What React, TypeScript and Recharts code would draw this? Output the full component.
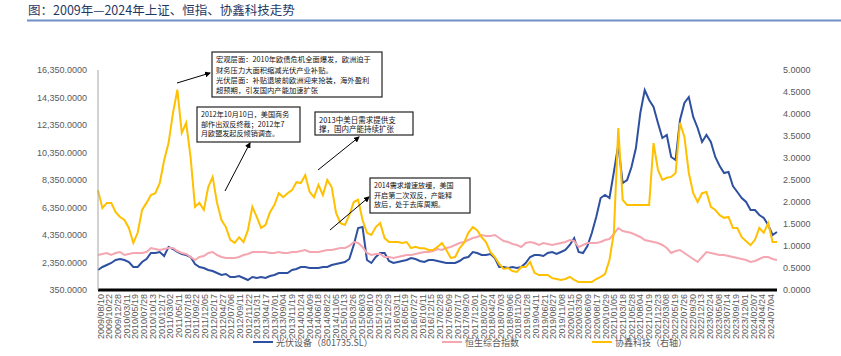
import React from 'react';
import { LineChart, Line, XAxis, YAxis } from 'recharts';

const chartTitle = '图：2009年—2024年上证、恒指、协鑫科技走势';

const xLabels = [
  '2009/08/10', '2009/10/22', '2009/12/28', '2010/03/11', '2010/05/19', '2010/07/28', '2010/10/13', '2010/12/17',
  '2011/03/02', '2011/05/11', '2011/07/18', '2011/09/22', '2011/12/05', '2012/02/17', '2012/04/27', '2012/07/06',
  '2012/09/11', '2012/11/22', '2013/01/31', '2013/04/17', '2013/07/01', '2013/09/04', '2013/11/19', '2014/01/24',
  '2014/04/09', '2014/06/18', '2014/08/22', '2014/11/05', '2015/01/13', '2015/03/26', '2015/06/03', '2015/08/10',
  '2015/10/23', '2015/12/29', '2016/03/11', '2016/05/19', '2016/07/27', '2016/10/11', '2016/12/15', '2017/02/28',
  '2017/05/09', '2017/07/17', '2017/09/20', '2017/12/01', '2018/02/07', '2018/04/24', '2018/07/03', '2018/09/06',
  '2018/11/20', '2019/01/28', '2019/04/11', '2019/06/21', '2019/08/27', '2019/11/08', '2020/01/15', '2020/03/30',
  '2020/06/09', '2020/08/17', '2020/10/29', '2021/01/05', '2021/03/18', '2021/05/28', '2021/08/04', '2021/10/19',
  '2021/12/23', '2022/03/08', '2022/05/19', '2022/07/26', '2022/09/30', '2022/12/13', '2023/02/24', '2023/05/08',
  '2023/07/14', '2023/09/19', '2023/12/01', '2024/02/07', '2024/04/24', '2024/07/04',
];

// 光伏设备（801735.SL） – left axis
const blueSeries = [
  1805, 2023, 2168, 2314, 2532, 2605, 2532, 2386, 2023, 2023, 2386, 2605, 3041, 3041, 3114, 2823, 3477, 3332, 3114, 2968,
  2895, 2750, 2241, 2023, 1950, 1805, 1732, 1586, 1441, 1514, 1295, 1295, 1368, 1223, 1077, 1295, 1223, 1295, 1223,
  1368, 1441, 1586, 1586, 1586, 1805, 1877, 2023, 2023, 1950, 1950, 1950, 2023, 2023, 2168, 2241, 2314, 2386, 2605, 3623,
  4859, 4932, 2532, 2314, 2750, 3041, 3041, 2459, 2314, 2386, 2459, 2532, 2677, 2605, 2459, 2386, 2532, 2532,
  2459, 2386, 2314, 2314, 2314, 2459, 2677, 2750, 3114, 3041, 2895, 2895, 2968, 2677, 2023, 2023, 1950, 2023, 1950, 2023,
  2314, 2750, 2895, 2895, 2823, 3041, 3114, 2968, 3114, 3259, 3623, 4132, 3114, 3041, 3550, 4496, 5659, 7041, 7259,
  7041, 8932, 10896, 8132, 8350, 9296, 10677, 13223, 14896, 14168, 13659, 12496, 11405, 11623, 10023, 9805, 12714, 13950,
  14386, 12932, 12132, 11114, 11623, 11114, 10023, 9368, 8859, 8932, 7914, 7477, 7041, 6750, 6168, 6168, 5805, 5586, 5077,
  4350, 4568,
];

// 恒生综合指数 – left axis
const pinkSeries = [
  2895, 2968, 3041, 2895, 3041, 3114, 2895, 2968, 3041, 3041, 3041, 3114, 3405, 3332, 3259, 3332, 3405, 3405, 3186, 3041,
  2968, 2750, 2532, 2750, 2823, 3041, 3114, 2895, 2750, 2677, 2677, 2677, 2750, 2895, 2968, 3114, 3114, 3114, 3114,
  3041, 3041, 3114, 3041, 3041, 3114, 3114, 3186, 3259, 3114, 3114, 3114, 3186, 3259, 3259, 3332, 3405, 3405, 3550, 3841,
  3768, 3477, 3041, 2895, 2968, 2968, 2750, 2750, 2677, 2750, 2823, 2895, 2895, 2968, 3041, 3114, 3114, 3186,
  3332, 3259, 3405, 3477, 3623, 3768, 3841, 3986, 4132, 4205, 4350, 4277, 4277, 4350, 4132, 3914, 3841, 3695, 3623, 3477,
  3768, 3841, 3768, 3623, 3768, 3695, 3623, 3695, 3768, 3841, 3986, 3914, 3477, 3623, 3768, 3768, 3768, 3841, 3986,
  4059, 4423, 4859, 4641, 4568, 4496, 4350, 4205, 3986, 3914, 3841, 3768, 3623, 3405, 3041, 3186, 3259, 3041, 2823, 2605,
  2386, 2750, 3114, 3041, 2968, 2895, 2895, 2823, 2750, 2677, 2605, 2532, 2386, 2459, 2605, 2750, 2750, 2605, 2532,
];

// 协鑫科技（右轴） – right axis
const yellowSeries = [
  2.27, 1.86, 1.98, 1.98, 1.77, 1.66, 1.59, 1.41, 1.07, 1.30, 1.82, 1.98, 2.16, 2.20, 2.43, 2.95, 3.34, 4.02, 4.55, 3.57,
  3.80, 3.02, 1.89, 1.98, 1.82, 2.34, 2.57, 1.98, 1.59, 1.43, 1.14, 1.07, 1.20, 1.09, 1.36, 1.89, 1.66, 1.41, 1.48,
  1.77, 1.93, 2.20, 2.11, 2.20, 2.27, 2.45, 2.43, 2.61, 2.23, 2.11, 2.39, 2.16, 2.50, 2.34, 1.75, 1.52, 1.48, 1.70, 2.00,
  2.05, 1.59, 1.30, 1.25, 1.43, 1.52, 1.18, 1.09, 1.09, 1.09, 1.07, 1.09, 0.95, 0.98, 0.95, 0.95, 0.91, 0.91,
  0.98, 1.07, 0.91, 0.73, 0.75, 0.95, 1.07, 1.30, 1.43, 1.36, 1.20, 1.09, 0.86, 0.75, 0.59, 0.48, 0.50, 0.43, 0.41, 0.52,
  0.52, 0.64, 0.39, 0.34, 0.34, 0.34, 0.27, 0.25, 0.23, 0.25, 0.30, 0.23, 0.18, 0.18, 0.18, 0.18, 0.25, 0.30, 0.36,
  0.68, 1.30, 3.68, 2.05, 1.93, 1.93, 1.93, 1.93, 1.93, 1.93, 3.34, 2.73, 2.50, 2.55, 2.57, 2.66, 3.80, 3.48, 2.66, 2.20,
  2.00, 2.20, 2.23, 1.89, 1.82, 1.70, 1.64, 1.66, 1.41, 1.41, 1.20, 1.11, 1.02, 1.14, 1.41, 1.30, 1.52, 1.09, 1.09,
];

const leftTicks = [350, 2350, 4350, 6350, 8350, 10350, 12350, 14350, 16350];
const rightTicks = [0, 0.5, 1, 1.5, 2, 2.5, 3, 3.5, 4, 4.5, 5];
const seriesNames = ['光伏设备（801735.SL）', '恒生综合指数', '协鑫科技（右轴）'];
const seriesColors = ['#2E50A0', '#F4A6B1', '#FFC000'];

const notes = [
  {
    box: [212, 52, 170, 45], lines: ['宏观层面：2010年欧债危机全面爆发，欧洲迫于', '财务压力大面积缩减光伏产业补贴。', '光伏层面：补贴退坡前欧洲迎来抢装，海外盈利', '超预期，引发国内产能加速扩张'],
    fs: 7.3, lh: 10.2, arrow: [177, 83, 210, 73],
  },
  {
    box: [197, 107, 103, 35], lines: ['2012年10月10日，美国商务', '部作出双反终裁；2012年7', '月欧盟发起反倾销调查。'],
    fs: 7.1, lh: 9.3, arrow: [225, 191, 250, 143],
  },
  {
    box: [315, 112, 98, 23], lines: ['2013中美日需求提供支', '撑，国内产能持续扩张'],
    fs: 7.5, lh: 9.6, arrow: [318, 170, 359, 137],
  },
  {
    box: [370, 178, 100, 35], lines: ['2014需求增速放缓，美国', '开启第二次双反，产能释', '放后，处于去库周期。'],
    fs: 7.1, lh: 9.4, arrow: [330, 230, 369, 197],
  },
];

const rows = blueSeries.map((v, i) => ({ idx: i, blue: v, pink: pinkSeries[i], yellow: yellowSeries[i] }));
const lastIdx = blueSeries.length - 1;
const slots = xLabels.length; // one more slot after the last label
const xTicks = xLabels.map((_, k) => (k * lastIdx) / slots);

const fmtLeft = (v: number) => v.toLocaleString('en-US', { minimumFractionDigits: 4, maximumFractionDigits: 4 });
const fmtRight = (v: number) => v.toFixed(4);

const NUM_FONT = "'Liberation Sans', 'Noto Sans CJK SC', sans-serif";
const CJK_FONT = "'Noto Sans CJK SC', 'Liberation Sans', sans-serif";

const XTick = (props: any) => {
  const { x, y, payload } = props;
  const k = Math.round((payload.value * slots) / lastIdx);
  const tx = x + 2.5;
  const ty = y;
  return (
    <text x={tx} y={ty} transform={`rotate(-90 ${tx} ${ty})`} textAnchor="end" dy="0.35em" fontSize={9} fill="#595959" fontFamily={NUM_FONT}>
      {xLabels[k]}
    </text>
  );
};

export default function App() {
  return (
    <div style={{ position: 'absolute', left: 0, top: 0, width: 841, height: 356, background: '#fff', overflow: 'hidden' }}>
      <LineChart width={841} height={356} data={rows} margin={{ top: 70, right: 0, bottom: 10, left: 0 }}>
        <XAxis
          dataKey="idx"
          type="number"
          domain={[0, lastIdx]}
          ticks={xTicks}
          interval={0}
          tick={<XTick />}
          tickLine={false}
          tickSize={0}
          tickMargin={4}
          height={56}
          axisLine={{ stroke: '#000', strokeWidth: 3 }}
          allowDecimals
        />
        <YAxis
          yAxisId="left"
          domain={[350, 16350]}
          ticks={leftTicks}
          interval={0}
          tickFormatter={fmtLeft}
          width={98}
          tickLine={false}
          tickSize={0}
          tickMargin={11}
          axisLine={{ stroke: '#a6a6a6', strokeWidth: 1 }}
          tick={{ fontSize: 9, fill: '#595959', fontFamily: NUM_FONT }}
        />
        <YAxis
          yAxisId="right"
          orientation="right"
          domain={[0, 5]}
          ticks={rightTicks}
          interval={0}
          tickFormatter={fmtRight}
          width={64}
          tickLine={false}
          tickSize={0}
          tickMargin={6}
          axisLine={false}
          tick={{ fontSize: 9, fill: '#595959', fontFamily: NUM_FONT, textAnchor: 'start' }}
        />
        <Line yAxisId="left" dataKey="blue" stroke={seriesColors[0]} strokeWidth={2} dot={false} type="linear" isAnimationActive={false} />
        <Line yAxisId="left" dataKey="pink" stroke={seriesColors[1]} strokeWidth={2} dot={false} type="linear" isAnimationActive={false} />
        <Line yAxisId="right" dataKey="yellow" stroke={seriesColors[2]} strokeWidth={2} dot={false} type="linear" isAnimationActive={false} />
      </LineChart>
      <svg width={841} height={356} style={{ position: 'absolute', left: 0, top: 0, pointerEvents: 'none' }}>
        <defs>
          <marker id="ah" markerWidth="6" markerHeight="6" refX="5" refY="3" orient="auto" markerUnits="userSpaceOnUse">
            <path d="M0,0 L6,3 L0,6 z" fill="#000" />
          </marker>
        </defs>
        <text x={28} y={15} fontSize={12.5} fill="#1F3864" fontFamily={CJK_FONT}>{chartTitle}</text>
        <line x1={27} y1={20.5} x2={841} y2={20.5} stroke="#6F8FC9" strokeWidth={2} />
        {notes.map((n, k) => (
          <g key={k}>
            <line x1={n.arrow[0]} y1={n.arrow[1]} x2={n.arrow[2]} y2={n.arrow[3]} stroke="#000" strokeWidth={1} markerEnd="url(#ah)" />
            <rect x={n.box[0]} y={n.box[1]} width={n.box[2]} height={n.box[3]} fill="#fff" stroke="#222" strokeWidth={1.2} />
            {n.lines.map((t, j) => (
              <text key={j} x={n.box[0] + 4} y={n.box[1] + 4 + n.fs * 0.88 + j * n.lh} fontSize={n.fs} fill="#111" fontFamily={CJK_FONT}>{t}</text>
            ))}
          </g>
        ))}
        {[253, 442, 592].map((lx, k) => (
          <g key={k}>
            <line x1={lx} y1={342} x2={lx + 20} y2={342} stroke={seriesColors[k]} strokeWidth={2} />
            <text x={lx + 23} y={345.5} fontSize={9} fill="#595959" fontFamily={CJK_FONT}>{seriesNames[k]}</text>
          </g>
        ))}
      </svg>
    </div>
  );
}
